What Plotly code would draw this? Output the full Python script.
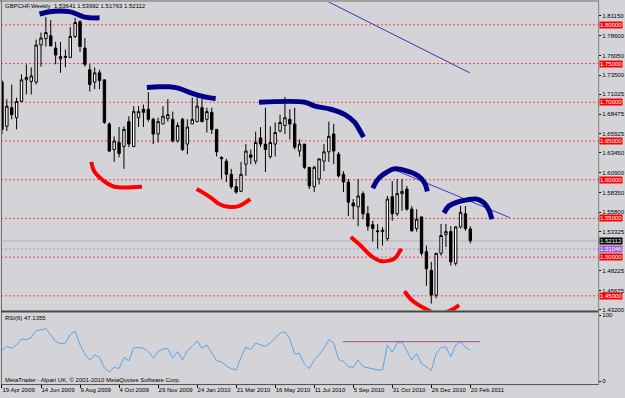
import plotly.graph_objects as go

W, H = 625, 398

# ---------------- data ----------------
weeks = list(range(97))
opens = [1.726,1.669,1.693,1.680,1.701,1.729,1.727,1.726,1.774,1.782,
         1.786,1.770,1.756,1.758,1.758,1.785,1.804,1.770,1.742,1.726,
         1.738,1.729,1.672,1.639,1.648,1.643,1.675,1.643,1.680,1.691,
         1.691,1.678,1.659,1.672,1.679,1.678,1.650,1.678,1.646,1.672,
         1.675,1.693,1.678,1.687,1.665,1.629,1.624,1.607,1.591,1.585,
         1.620,1.632,1.624,1.654,1.646,1.630,1.646,1.663,1.670,1.678,
         1.672,1.637,1.646,1.616,1.591,1.601,1.624,1.636,1.659,1.633,
         1.607,1.597,1.570,1.565,1.582,1.556,1.542,1.534,1.533,1.524,
         1.578,1.556,1.582,1.588,1.562,1.537,1.552,1.507,1.483,1.451,
         1.505,1.529,1.533,1.492,1.539,1.556,1.53641]
closes = [1.665,1.695,1.684,1.701,1.729,1.732,1.734,1.774,1.783,1.790,
          1.773,1.761,1.759,1.759,1.785,1.803,1.772,1.749,1.723,1.738,
          1.728,1.674,1.637,1.650,1.634,1.665,1.646,1.688,1.688,1.687,
          1.678,1.659,1.675,1.682,1.684,1.650,1.670,1.639,1.668,1.678,
          1.695,1.675,1.688,1.665,1.636,1.627,1.607,1.591,1.584,1.607,
          1.637,1.629,1.648,1.646,1.639,1.648,1.661,1.674,1.680,1.672,
          1.642,1.646,1.616,1.592,1.616,1.627,1.636,1.656,1.637,1.605,
          1.597,1.571,1.566,1.579,1.556,1.540,1.537,1.533,1.535,1.575,
          1.556,1.582,1.585,1.562,1.534,1.549,1.505,1.485,1.451,1.505,
          1.528,1.533,1.494,1.539,1.558,1.537,1.52112]
highs = [1.729,1.704,1.723,1.706,1.736,1.749,1.745,1.781,1.790,1.810,
         1.806,1.778,1.778,1.768,1.797,1.809,1.806,1.783,1.749,1.745,
         1.742,1.729,1.674,1.656,1.668,1.669,1.682,1.695,1.695,1.697,
         1.713,1.680,1.680,1.695,1.704,1.688,1.674,1.680,1.678,1.706,
         1.706,1.704,1.693,1.693,1.665,1.630,1.627,1.614,1.601,1.623,
         1.646,1.639,1.662,1.668,1.693,1.669,1.674,1.684,1.707,1.691,
         1.693,1.652,1.646,1.616,1.618,1.627,1.646,1.675,1.672,1.636,
         1.611,1.601,1.575,1.601,1.585,1.566,1.547,1.543,1.539,1.579,
         1.598,1.601,1.601,1.592,1.566,1.562,1.552,1.515,1.494,1.505,
         1.543,1.543,1.540,1.540,1.566,1.566,1.53992]
lows = [1.659,1.663,1.678,1.665,1.700,1.710,1.710,1.723,1.746,1.772,
        1.772,1.749,1.738,1.745,1.757,1.783,1.765,1.746,1.714,1.717,
        1.717,1.672,1.636,1.623,1.629,1.614,1.642,1.642,1.668,1.668,
        1.675,1.646,1.648,1.672,1.675,1.648,1.648,1.637,1.633,1.672,
        1.674,1.674,1.661,1.659,1.630,1.601,1.597,1.588,1.582,1.584,
        1.605,1.620,1.620,1.642,1.610,1.627,1.630,1.661,1.659,1.652,
        1.639,1.630,1.614,1.588,1.584,1.594,1.611,1.623,1.620,1.603,
        1.584,1.553,1.549,1.540,1.549,1.534,1.520,1.511,1.515,1.521,
        1.547,1.553,1.560,1.560,1.533,1.533,1.502,1.463,1.440,1.447,
        1.502,1.513,1.489,1.489,1.537,1.534,1.51763]
rsi = [47,53,50,55,64,63,66,77,78,80,
       70,60,57,58,71,76,55,41,32,40,
       36,20,14,21,19,36,31,51,51,50,
       45,35,45,49,49,35,45,32,47,53,
       61,50,55,42,31,29,23,19,17,36,
       52,48,58,55,53,58,66,73,75,64,
       41,42,26,19,32,40,50,63,58,33,
       30,22,21,32,22,20,18,17,17,55,
       44,58,60,47,32,42,26,22,16,42,
       51,52,37,55,60,51,47.1355]

date_ticks = [0, 8, 16, 24, 32, 40, 48, 56, 64, 72, 80, 88, 96]
date_labels = ["19 Apr 2009", "14 Jun 2009", "9 Aug 2009", "4 Oct 2009",
               "29 Nov 2009", "24 Jan 2010", "21 Mar 2010", "16 May 2010",
               "11 Jul 2010", "5 Sep 2010", "31 Oct 2010", "26 Dec 2010",
               "20 Feb 2011"]
price_ticks = [1.81150, 1.78600, 1.76050, 1.73500, 1.71025, 1.68475, 1.65925,
               1.63450, 1.60900, 1.58350, 1.55800, 1.53325, 1.48225, 1.45675,
               1.43200]
levels = [1.80, 1.75, 1.70, 1.65, 1.60, 1.55, 1.50, 1.45]
bid_price = 1.52112
ask_price = 1.51046
rsi_ticks = [0, 100]
rsi_mark_x = [69.9, 98.0]
rsi_mark_y = [60, 60]

# hand-drawn marks (week index, price)
blue_arcs = [
    ([7.7, 9.8, 11.8, 13.8, 15.3, 16.9, 20.0],
     [1.814, 1.817, 1.818, 1.817, 1.814, 1.810, 1.809]),
    ([29.7, 32.2, 34.2, 36.3, 38.3, 40.3, 42.4, 43.8],
     [1.719, 1.720, 1.720, 1.718, 1.713, 1.709, 1.706, 1.705]),
    ([52.7, 62.1, 64.2, 67.4, 70.3, 72.3, 73.3, 74.1],
     [1.700, 1.700, 1.695, 1.691, 1.684, 1.674, 1.664, 1.655]),
    ([76.0, 77.0, 78.2, 80.4, 83.1, 85.3, 86.6, 87.2],
     [1.589, 1.600, 1.607, 1.614, 1.611, 1.605, 1.596, 1.585]),
    ([90.6, 91.6, 93.3, 95.3, 97.4, 98.8, 99.8, 100.4],
     [1.557, 1.566, 1.571, 1.574, 1.575, 1.570, 1.561, 1.549]),
]
red_arcs = [
    ([18.3, 18.9, 20.0, 21.4, 23.0, 28.7],
     [1.623, 1.611, 1.603, 1.596, 1.591, 1.591]),
    ([39.9, 41.3, 43.0, 44.4, 46.4, 48.5, 50.9],
     [1.588, 1.583, 1.576, 1.569, 1.565, 1.566, 1.575]),
    ([71.5, 73.5, 75.6, 77.6, 80.4, 81.5, 81.9],
     [1.526, 1.515, 1.502, 1.495, 1.498, 1.507, 1.511]),
    ([82.5, 84.1, 86.6, 89.2, 91.9, 93.7],
     [1.456, 1.444, 1.434, 1.427, 1.431, 1.438]),
]
trend_lines = [
    ([66.2, 95.9], [1.832, 1.738]),
    ([80.0, 104.1], [1.614, 1.551]),
]

# ---------------- figure ----------------
FONT = "Liberation Sans, Arial, sans-serif"
BG = "#d4d3d7"

fig = go.Figure()
fig.add_trace(go.Candlestick(
    x=weeks, open=opens, high=highs, low=lows, close=closes,
    increasing=dict(line=dict(color="black", width=1), fillcolor="white"),
    decreasing=dict(line=dict(color="black", width=1), fillcolor="black"),
    whiskerwidth=0, xaxis="x", yaxis="y", hoverinfo="skip", showlegend=False))

for xs, ys in trend_lines:
    fig.add_trace(go.Scatter(x=xs, y=ys, mode="lines",
                             line=dict(color="#3a3ab8", width=1),
                             xaxis="x", yaxis="y", hoverinfo="skip", showlegend=False))
for xs, ys in blue_arcs:
    fig.add_trace(go.Scatter(x=xs, y=ys, mode="lines",
                             line=dict(color="#000088", width=5, shape="spline"),
                             xaxis="x", yaxis="y", hoverinfo="skip", showlegend=False))
for xs, ys in red_arcs:
    fig.add_trace(go.Scatter(x=xs, y=ys, mode="lines",
                             line=dict(color="#ff0000", width=4, shape="spline"),
                             xaxis="x", yaxis="y", hoverinfo="skip", showlegend=False))

fig.add_trace(go.Scatter(x=weeks, y=rsi, mode="lines",
                         line=dict(color="#5aa2ee", width=1),
                         xaxis="x2", yaxis="y2", hoverinfo="skip", showlegend=False))
fig.add_trace(go.Scatter(x=rsi_mark_x, y=rsi_mark_y, mode="lines",
                         line=dict(color="#9c4c8c", width=1),
                         xaxis="x2", yaxis="y2", hoverinfo="skip", showlegend=False))

XL, XR = 1.0 / W, 602.0 / W


def py(p):
    return 1 - p / H


shapes = []
for lv in levels:
    shapes.append(dict(type="line", xref="paper", yref="y", x0=XL, x1=XR, y0=lv, y1=lv,
                       line=dict(color="#f04848", width=1, dash="2px,2px"), layer="below"))
shapes.append(dict(type="line", xref="paper", yref="y", x0=XL, x1=XR, y0=bid_price, y1=bid_price,
                   line=dict(color="#c2c2c2", width=2), layer="below"))
shapes.append(dict(type="line", xref="paper", yref="y", x0=XL, x1=XR, y0=ask_price, y1=ask_price,
                   line=dict(color="#a488d8", width=1, dash="2px,2px"), layer="below"))
# frame
shapes += [
    dict(type="line", xref="paper", yref="paper", x0=1.5 / W, x1=1.5 / W, y0=py(386), y1=py(0),
         line=dict(color="#707070", width=1)),
    dict(type="line", xref="paper", yref="paper", x0=0, x1=XR, y0=py(1), y1=py(1),
         line=dict(color="#707070", width=1)),
    dict(type="line", xref="paper", yref="paper", x0=602.5 / W, x1=602.5 / W, y0=py(387), y1=py(0),
         line=dict(color="#808080", width=1)),
    dict(type="line", xref="paper", yref="paper", x0=XL, x1=XR, y0=py(313), y1=py(313),
         line=dict(color="#484848", width=2)),
    dict(type="line", xref="paper", yref="paper", x0=XL, x1=XR, y0=py(386.5), y1=py(386.5),
         line=dict(color="#505050", width=1)),
]

annotations = []
for lv in levels:
    annotations.append(dict(xref="paper", yref="y", x=603 / W, y=lv, xanchor="left", yanchor="middle",
                            text=f"{lv:.5f}", showarrow=False, bgcolor="#ff0000", borderpad=0,
                            font=dict(family=FONT, size=6, color="white")))
annotations.append(dict(xref="paper", yref="y", x=603 / W, y=bid_price, xanchor="left", yanchor="middle",
                        text=f"{bid_price:.5f}", showarrow=False, bgcolor="#000000", borderpad=0,
                        font=dict(family=FONT, size=6, color="white")))
annotations.append(dict(xref="paper", yref="y", x=603 / W, y=ask_price, xanchor="left", yanchor="middle",
                        text=f"{ask_price:.5f}", showarrow=False, bgcolor="#9a5fd4", borderpad=0,
                        font=dict(family=FONT, size=6, color="white")))
annotations.append(dict(xref="paper", yref="paper", x=3 / W, y=py(6.5), xanchor="left", yanchor="middle",
                        text=f"GBPCHF,Weekly  {opens[-1]:.5f} {highs[-1]:.5f} {lows[-1]:.5f} {closes[-1]:.5f}",
                        showarrow=False, font=dict(family=FONT, size=6, color="black")))
annotations.append(dict(xref="paper", yref="paper", x=3 / W, y=py(319.5), xanchor="left", yanchor="middle",
                        text=f"RSI(6) {rsi[-1]:.4f}", showarrow=False,
                        font=dict(family=FONT, size=6, color="black")))
annotations.append(dict(xref="paper", yref="paper", x=3 / W, y=py(381.5), xanchor="left", yanchor="middle",
                        text="MetaTrader - Alpari UK, © 2001-2010 MetaQuotes Software Corp.", showarrow=False,
                        font=dict(family=FONT, size=6, color="black")))

tickfont = dict(family=FONT, size=6, color="black")
fig.update_layout(
    width=W, height=H, margin=dict(l=0, r=0, t=0, b=0),
    paper_bgcolor=BG, plot_bgcolor=BG, showlegend=False,
    xaxis=dict(domain=[XL, XR], range=[-0.2, 122.2], anchor="y", showticklabels=False,
               showgrid=False, zeroline=False, showline=False, ticks="",
               rangeslider=dict(visible=False)),
    xaxis2=dict(domain=[XL, XR], matches="x", anchor="y2", tickvals=date_ticks, ticktext=date_labels,
                ticks="outside", ticklen=3, tickcolor="black", ticklabelposition="outside right",
                tickangle=0, tickfont=tickfont, showgrid=False, zeroline=False, showline=False),
    yaxis=dict(domain=[py(312), py(2)], range=[1.4312, 1.8295], side="right", anchor="x",
               tickvals=price_ticks, ticktext=[f"{v:.5f}" for v in price_ticks],
               ticks="outside", ticklen=2, tickcolor="black", tickfont=tickfont,
               showgrid=False, zeroline=False, showline=False),
    yaxis2=dict(domain=[py(386), py(314)], range=[-4.5, 104.5], side="right", anchor="x2",
                tickvals=rsi_ticks, ticktext=[str(v) for v in rsi_ticks],
                ticks="outside", ticklen=2, tickcolor="black", tickfont=tickfont,
                showgrid=False, zeroline=False, showline=False),
    shapes=shapes, annotations=annotations,
)

fig.write_html("out.html")
